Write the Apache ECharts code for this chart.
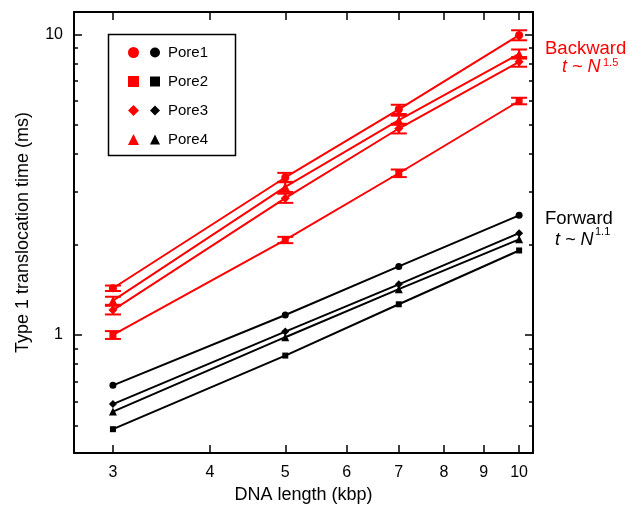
<!DOCTYPE html>
<html>
<head>
<meta charset="utf-8">
<script src="https://cdn.jsdelivr.net/npm/echarts@6/dist/echarts.min.js"></script>
<style>
  html, body { margin: 0; padding: 0; background: #fff; }
  #chart { width: 629px; height: 506px; }
</style>
</head>
<body>
<div id="chart"></div>
<script>
// DNA lengths (kbp) at which translocation times were measured
const lengths = [3, 5, 7, 10];

// Axis tick positions
const xTicks = [3, 4, 5, 6, 7, 8, 9, 10];
const yMajorTicks = [1, 10];
const yMinorTicks = [0.5, 0.6, 0.7, 0.8, 0.9, 2, 3, 4, 5, 6, 7, 8, 9];

// Pore names and their marker shapes
const pores = ['Pore1', 'Pore2', 'Pore3', 'Pore4'];
const poreSymbols = ['circle', 'rect', 'diamond', 'triangle'];
const poreSymbolSizes = [8, 7, 9, 9];

// Forward translocation times (ms)
const forwardPore1 = [0.68, 1.165, 1.69, 2.50];
const forwardPore2 = [0.486, 0.854, 1.265, 1.91];
const forwardPore3 = [0.589, 1.026, 1.474, 2.18];
const forwardPore4 = [0.556, 0.983, 1.42, 2.08];

// Backward translocation times (ms) and their errors
const backwardPore1 = [1.43, 3.34, 5.63, 9.93];
const backwardPore2 = [1.00, 2.07, 3.45, 6.00];
const backwardPore3 = [1.21, 2.85, 4.86, 8.10];
const backwardPore4 = [1.30, 3.11, 5.18, 8.60];
const backwardErr1 = [0.03, 0.12, 0.20, 0.38];
const backwardErr2 = [0.03, 0.05, 0.10, 0.15];
const backwardErr3 = [0.04, 0.10, 0.18, 0.30];
const backwardErr4 = [0.04, 0.12, 0.18, 0.30];

const forwardSets = [forwardPore1, forwardPore2, forwardPore3, forwardPore4];
const backwardSets = [backwardPore1, backwardPore2, backwardPore3, backwardPore4];
const backwardErrs = [backwardErr1, backwardErr2, backwardErr3, backwardErr4];

const RED = '#ff0000';
const BLACK = '#000000';
const FONT = '"Liberation Sans", Arial, Helvetica, sans-serif';

const xMin = 2.673, xMax = 10.42;
const yMin = 0.405, yMax = 11.86;

const pairs = (ys) => lengths.map((x, i) => [x, ys[i]]);

const series = [];

// Backward: lines with markers and error bars
backwardSets.forEach((ys, k) => {
  series.push({
    name: pores[k] + ' backward',
    type: 'line',
    xAxisIndex: 0, yAxisIndex: 0,
    data: pairs(ys),
    symbol: poreSymbols[k],
    symbolSize: poreSymbolSizes[k],
    itemStyle: { color: RED },
    lineStyle: { color: RED, width: 2 },
    z: 3
  });
  series.push({
    name: pores[k] + ' backward',
    type: 'custom',
    xAxisIndex: 0, yAxisIndex: 0,
    data: lengths.map((x, i) => [x, ys[i] - backwardErrs[k][i], ys[i] + backwardErrs[k][i]]),
    encode: { x: 0, y: [1, 2] },
    renderItem: function (params, api) {
      const lo = api.coord([api.value(0), api.value(1)]);
      const hi = api.coord([api.value(0), api.value(2)]);
      const half = 8;
      const style = { stroke: RED, lineWidth: 2, fill: null };
      return {
        type: 'group',
        children: [
          { type: 'line', shape: { x1: lo[0], y1: lo[1], x2: hi[0], y2: hi[1] }, style: style },
          { type: 'line', shape: { x1: lo[0] - half, y1: lo[1], x2: lo[0] + half, y2: lo[1] }, style: style },
          { type: 'line', shape: { x1: hi[0] - half, y1: hi[1], x2: hi[0] + half, y2: hi[1] }, style: style }
        ]
      };
    },
    z: 4
  });
});

// Forward: lines with markers
forwardSets.forEach((ys, k) => {
  series.push({
    name: pores[k],
    type: 'line',
    xAxisIndex: 0, yAxisIndex: 0,
    data: pairs(ys),
    symbol: poreSymbols[k],
    symbolSize: poreSymbolSizes[k] - 1,
    itemStyle: { color: BLACK },
    lineStyle: { color: BLACK, width: 2 },
    z: 3
  });
});

const axisLineStyle = { show: true, lineStyle: { color: BLACK, width: 2 } };
const tickStyle = { color: BLACK, width: 1.5 };

const baseX = {
  type: 'log', logBase: 10, min: xMin, max: xMax,
  splitLine: { show: false }, minorTick: { show: false }
};
const baseY = {
  type: 'log', logBase: 10, min: yMin, max: yMax,
  splitLine: { show: false }, minorTick: { show: false }
};

const gridRect = { left: 74, right: 96, top: 12, bottom: 53, outerBoundsMode: 'none', containLabel: false };

const option = {
  animation: false,
  backgroundColor: '#fff',
  grid: [Object.assign({}, gridRect), Object.assign({}, gridRect)],
  xAxis: [
    Object.assign({}, baseX, {
      gridIndex: 0, position: 'bottom',
      axisLine: axisLineStyle,
      axisTick: { show: true, inside: true, length: 8, customValues: xTicks, lineStyle: tickStyle },
      axisLabel: { show: true, customValues: xTicks, margin: 12, fontSize: 16, color: BLACK, fontFamily: FONT },
      name: 'DNA length (kbp)', nameLocation: 'middle', nameGap: 33,
      nameTextStyle: { fontSize: 18, color: BLACK, fontFamily: FONT }
    }),
    Object.assign({}, baseX, {
      gridIndex: 0, position: 'top',
      axisLine: axisLineStyle,
      axisTick: { show: true, inside: true, length: 8, customValues: xTicks, lineStyle: tickStyle },
      axisLabel: { show: false }
    }),
    Object.assign({}, baseX, { gridIndex: 1, show: false })
  ],
  yAxis: [
    Object.assign({}, baseY, {
      gridIndex: 0, position: 'left',
      axisLine: axisLineStyle,
      axisTick: { show: true, inside: true, length: 8, customValues: yMajorTicks, lineStyle: tickStyle },
      axisLabel: { show: true, customValues: yMajorTicks, margin: 11, fontSize: 16, color: BLACK, fontFamily: FONT },
      name: 'Type 1 translocation time (ms)', nameLocation: 'middle', nameGap: 42,
      nameTextStyle: { fontSize: 18, color: BLACK, fontFamily: FONT }
    }),
    Object.assign({}, baseY, {
      gridIndex: 0, position: 'right',
      axisLine: axisLineStyle,
      axisTick: { show: true, inside: true, length: 8, customValues: yMajorTicks, lineStyle: tickStyle },
      axisLabel: { show: false }
    }),
    Object.assign({}, baseY, {
      gridIndex: 1, position: 'left',
      axisLine: { show: false },
      axisTick: { show: true, inside: true, length: 4, customValues: yMinorTicks, lineStyle: tickStyle },
      axisLabel: { show: false }
    }),
    Object.assign({}, baseY, {
      gridIndex: 1, position: 'right',
      axisLine: { show: false },
      axisTick: { show: true, inside: true, length: 4, customValues: yMinorTicks, lineStyle: tickStyle },
      axisLabel: { show: false }
    })
  ],
  legend: [
    {
      left: 123, top: 40, orient: 'vertical', itemGap: 14,
      itemWidth: 11, itemHeight: 11,
      data: pores.map((p, k) => ({ name: p + ' backward', icon: poreSymbols[k] })),
      formatter: () => ' ',
      textStyle: { fontSize: 15, fontFamily: FONT },
      selectedMode: false
    },
    {
      left: 145, top: 40, orient: 'vertical', itemGap: 14,
      itemWidth: 10, itemHeight: 10,
      data: pores.map((p, k) => ({ name: p, icon: poreSymbols[k] })),
      textStyle: { fontSize: 15, color: BLACK, fontFamily: FONT, padding: [0, 0, 0, 3] },
      selectedMode: false
    }
  ],
  graphic: [
    { type: 'rect', left: 106, top: 32, shape: { width: 127, height: 121 },
      style: { fill: null, stroke: BLACK, lineWidth: 1.5 }, z: 10 },
    { type: 'text', left: 545, top: 39,
      style: { text: 'Backward', fill: RED, font: '18.5px ' + FONT } },
    { type: 'text', left: 562, top: 58,
      style: { text: 't ~ N', fill: RED, font: 'italic 18px ' + FONT } },
    { type: 'text', left: 603, top: 57,
      style: { text: '1.5', fill: RED, font: '11px ' + FONT } },
    { type: 'text', left: 545, top: 209,
      style: { text: 'Forward', fill: BLACK, font: '18.5px ' + FONT } },
    { type: 'text', left: 555, top: 231,
      style: { text: 't ~ N', fill: BLACK, font: 'italic 18px ' + FONT } },
    { type: 'text', left: 595, top: 226,
      style: { text: '1.1', fill: BLACK, font: '11px ' + FONT } }
  ],
  series: series
};

const chart = echarts.init(document.getElementById('chart'), null, { renderer: 'canvas' });
chart.setOption(option);
</script>
</body>
</html>
